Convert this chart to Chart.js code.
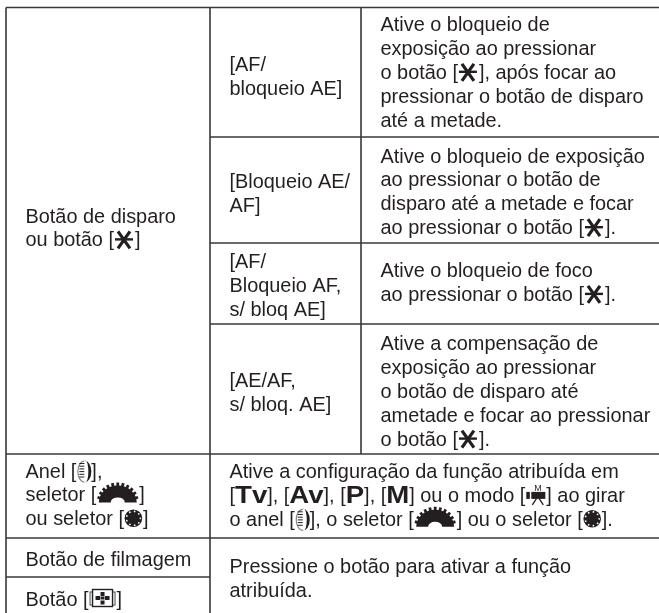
<!DOCTYPE html>
<html>
<head>
<meta charset="utf-8">
<title>Botões e funções</title>
<script src="https://cdn.jsdelivr.net/npm/chart.js@4"></script>
<style>
    html, body { margin: 0; padding: 0; background: #ffffff; }
    canvas { display: block; }
</style>
</head>
<body>
<canvas id="tableChart" width="659" height="613"></canvas>
<script>
// Table structure
const columnEdges = [6, 210, 361, 659];
const rowEdges = [7.5, 137, 243, 324, 454, 538, 577, 613];

// Rules: [fromColumn, toColumn, row]
const horizontalRules = [[0, 3, 0], [1, 3, 1], [1, 3, 2], [1, 3, 3], [0, 3, 4], [0, 3, 5], [0, 1, 6]];
// Rules: [column, fromRow, toRow]
const verticalRules = [[0, 0, 7], [1, 0, 7], [2, 0, 4]];

// Cell text, one string per line. {name} is an icon, {b:xx} is a heavy label
const triggerLabels = ['Botão de disparo', 'ou botão [{star}]'];
const modeLabels = [
    ['[AF/', 'bloqueio AE]'],
    ['[Bloqueio AE/', 'AF]'],
    ['[AF/', 'Bloqueio AF,', 's/ bloq AE]'],
    ['[AE/AF,', 's/ bloq. AE]']
];
const modeDescriptions = [
    ['Ative o bloqueio de', 'exposição ao pressionar', 'o botão [{star}], após focar ao', 'pressionar o botão de disparo', 'até a metade.'],
    ['Ative o bloqueio de exposição', 'ao pressionar o botão de', 'disparo até a metade e focar', 'ao pressionar o botão [{star}].'],
    ['Ative o bloqueio de foco', 'ao pressionar o botão [{star}].'],
    ['Ative a compensação de', 'exposição ao pressionar', 'o botão de disparo até', 'ametade e focar ao pressionar', 'o botão [{star}].']
];
const dialLabels = ['Anel [{ring}],', 'seletor [{dial}]', 'ou seletor [{wheel}]'];
const dialDescription = [
    'Ative a configuração da função atribuída em',
    '[{b:Tv}], [{b:Av}], [{b:P}], [{b:M}] ou o modo [{movie}] ao girar',
    'o anel [{ring}], o seletor [{dial}] ou o seletor [{wheel}].'
];
const movieLabel = ['Botão de filmagem'];
const menuLabel = ['Botão [{menu}]'];
const pressDescription = ['Pressione o botão para ativar a função', 'atribuída.'];

// Baselines of the first line of each block
const triggerBaseline = 222.5;
const modeBaselines = [71, 188, 268, 387];
const descriptionBaselines = [31, 162.5, 277, 350];
const dialBaseline = 477.5;
const dialDescriptionBaseline = 478;
const movieBaseline = 566;
const menuBaseline = 606;
const pressBaseline = 573;

const lineHeight = 23.9;
const textFont = '19.9px "Liberation Sans", Arial, sans-serif';
const heavyFont = 'bold 24px "Liberation Sans", Arial, sans-serif';
const heavyStretch = 1.15;
const inkColor = '#231f20';
const ruleColor = '#3a3839';

// Icons
const iconWidths = { star: 19, ring: 13, dial: 41, wheel: 17, movie: 19, menu: 26 };

const iconPainters = {
    star(ctx, x, y) {
        const cy = y - 7;
        const mx = x + 9;
        ctx.strokeStyle = inkColor;
        ctx.lineWidth = 2.4;
        ctx.beginPath();
        ctx.moveTo(x, cy);
        ctx.lineTo(x + 18, cy);
        ctx.stroke();
        ctx.lineWidth = 3.2;
        ctx.beginPath();
        ctx.moveTo(mx - 6, cy - 8);
        ctx.lineTo(mx + 6, cy + 9);
        ctx.moveTo(mx + 6, cy - 8);
        ctx.lineTo(mx - 6, cy + 9);
        ctx.stroke();
    },
    ring(ctx, x, y) {
        const cy = y - 6;
        ctx.fillStyle = inkColor;
        ctx.beginPath();
        ctx.ellipse(x + 7, cy, 7, 11, 0, -Math.PI / 2, Math.PI / 2);
        ctx.ellipse(x + 8, cy, 3, 11, 0, Math.PI / 2, -Math.PI / 2, true);
        ctx.fill();
        ctx.strokeStyle = '#8a8889';
        ctx.lineWidth = 1.2;
        ctx.beginPath();
        ctx.ellipse(x + 7, cy, 6.5, 10.5, 0, Math.PI / 2, Math.PI * 1.5);
        ctx.stroke();
        ctx.strokeStyle = inkColor;
        ctx.lineWidth = 1;
        ctx.beginPath();
        for (let dy = -8; dy <= 8; dy += 2.7) {
            ctx.moveTo(x + 2, cy + dy);
            ctx.lineTo(x + 7, cy + dy);
        }
        ctx.stroke();
    },
    dial(ctx, x, y) {
        const cx = x + 20.5;
        const cy = y + 1;
        ctx.fillStyle = inkColor;
        ctx.beginPath();
        ctx.ellipse(cx, cy, 19, 17, 0, Math.PI, 0);
        ctx.ellipse(cx, cy, 7, 5, 0, 0, Math.PI, true);
        ctx.closePath();
        ctx.fill();
        ctx.strokeStyle = inkColor;
        ctx.lineWidth = 2.8;
        ctx.beginPath();
        for (let a = 15; a <= 165; a += 15) {
            const rad = a * Math.PI / 180;
            ctx.moveTo(cx + Math.cos(rad) * 16, cy - Math.sin(rad) * 14);
            ctx.lineTo(cx + Math.cos(rad) * 21, cy - Math.sin(rad) * 20);
        }
        ctx.stroke();
    },
    wheel(ctx, x, y) {
        const cx = x + 8.5;
        const cy = y - 7;
        ctx.fillStyle = inkColor;
        ctx.beginPath();
        ctx.arc(cx, cy, 8.8, 0, Math.PI * 2);
        ctx.fill();
        ctx.fillStyle = '#ffffff';
        for (let a = 0; a < 360; a += 40) {
            const rad = a * Math.PI / 180;
            ctx.beginPath();
            ctx.arc(cx + Math.cos(rad) * 7, cy + Math.sin(rad) * 7, 0.9, 0, Math.PI * 2);
            ctx.fill();
        }
    },
    movie(ctx, x, y) {
        ctx.fillStyle = inkColor;
        ctx.fillRect(x + 5, y - 10, 14, 7);
        ctx.fillRect(x, y - 10, 3.5, 7);
        ctx.font = '9px "Liberation Sans", Arial, sans-serif';
        ctx.fillText('M', x + 8, y - 11);
        ctx.strokeStyle = inkColor;
        ctx.lineWidth = 1.3;
        ctx.beginPath();
        ctx.moveTo(x + 10, y - 3);
        ctx.lineTo(x + 6, y + 3);
        ctx.moveTo(x + 13, y - 3);
        ctx.lineTo(x + 17, y + 3);
        ctx.stroke();
    },
    menu(ctx, x, y) {
        ctx.strokeStyle = inkColor;
        ctx.lineWidth = 0.8;
        ctx.strokeRect(x + 0.5, y - 14, 25, 13);
        ctx.fillStyle = '#ffffff';
        ctx.fillRect(x + 3, y - 15, 20, 15);
        ctx.lineWidth = 1.4;
        ctx.strokeRect(x + 3, y - 16.5, 20, 17);
        ctx.fillStyle = inkColor;
        ctx.fillRect(x + 11, y - 14, 4, 4);
        ctx.fillRect(x + 11, y - 5.5, 4, 4);
        ctx.fillRect(x + 6, y - 10, 4.5, 4);
        ctx.fillRect(x + 15.5, y - 10, 4.5, 4);
        ctx.fillRect(x + 11, y - 9.5, 4, 3);
    }
};

// One block of text per cell: column it sits in, first baseline, lines
const textBlocks = [
    [0, triggerBaseline, triggerLabels],
    ...modeLabels.map((lines, i) => [1, modeBaselines[i], lines]),
    ...modeDescriptions.map((lines, i) => [2, descriptionBaselines[i], lines]),
    [0, dialBaseline, dialLabels],
    [1, dialDescriptionBaseline, dialDescription],
    [0, movieBaseline, movieLabel],
    [0, menuBaseline, menuLabel],
    [1, pressBaseline, pressDescription]
];
const cellPadding = 19.5;

// Draw a line of text with its icons and heavy labels
function drawRichLine(ctx, text, x, y) {
    const parts = text.split(/(\{[^}]+\})/).filter(Boolean);
    let cursor = x;
    parts.forEach(part => {
        if (part.startsWith('{b:')) {
            const label = part.slice(3, -1);
            ctx.save();
            ctx.font = heavyFont;
            ctx.translate(cursor, y + 1.5);
            ctx.scale(heavyStretch, 1);
            ctx.fillText(label, 0, 0);
            cursor += ctx.measureText(label).width * heavyStretch;
            ctx.restore();
        } else if (part.startsWith('{')) {
            const name = part.slice(1, -1);
            ctx.save();
            iconPainters[name](ctx, cursor + 1, y);
            ctx.restore();
            cursor += iconWidths[name] + 2;
        } else {
            ctx.fillText(part, cursor, y);
            cursor += ctx.measureText(part).width;
        }
    });
}

const cellTextPlugin = {
    id: 'cellText',
    afterDatasetsDraw(chart) {
        const { ctx, scales } = chart;
        ctx.save();
        ctx.fillStyle = inkColor;
        ctx.font = textFont;
        ctx.textBaseline = 'alphabetic';
        textBlocks.forEach(([column, baseline, lines]) => {
            lines.forEach((line, i) => {
                const x = scales.x.getPixelForValue(columnEdges[column] + cellPadding);
                const y = scales.y.getPixelForValue(baseline + i * lineHeight);
                drawRichLine(ctx, line, x, y);
            });
        });
        ctx.restore();
    }
};

// Every rule is its own two point line
const ruleStyle = { showLine: true, borderColor: ruleColor, borderWidth: 1.6, pointRadius: 0, fill: false };
const ruleDatasets = [
    ...horizontalRules.map(([from, to, row]) => ({
        ...ruleStyle,
        data: [{ x: columnEdges[from], y: rowEdges[row] }, { x: columnEdges[to], y: rowEdges[row] }]
    })),
    ...verticalRules.map(([column, from, to]) => ({
        ...ruleStyle,
        data: [{ x: columnEdges[column], y: rowEdges[from] }, { x: columnEdges[column], y: rowEdges[to] }]
    }))
];

new Chart(document.getElementById('tableChart'), {
    type: 'scatter',
    data: { datasets: ruleDatasets },
    options: {
        responsive: false,
        animation: false,
        layout: { padding: 0 },
        plugins: {
            legend: { display: false },
            title: { display: false },
            tooltip: { enabled: false }
        },
        scales: {
            x: { type: 'linear', min: 0, max: 659, display: false },
            y: { type: 'linear', min: 0, max: 613, reverse: true, display: false }
        }
    },
    plugins: [cellTextPlugin]
});
</script>
</body>
</html>
